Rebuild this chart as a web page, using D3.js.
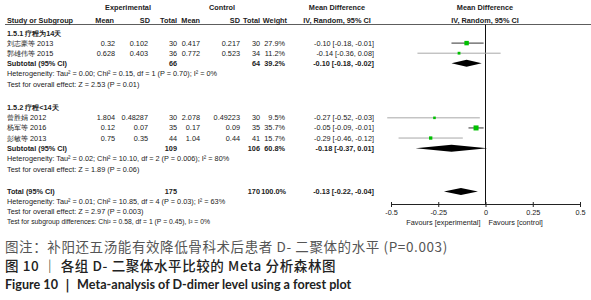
<!DOCTYPE html>
<html>
<head>
<meta charset="utf-8">
<script src="https://d3js.org/d3.v7.min.js"></script>
<style>
  body { margin: 0; background: #fff; }
  text { font-family: "Liberation Sans", Arial, sans-serif; fill: #222; }
  .cap { font-family: "Noto Sans CJK SC", "Noto Sans", sans-serif; }
</style>
</head>
<body>
<div id="chart"></div>
<script>
// ---- data ----
const subgroupLabels = ["1.5.1 疗程为14天", "1.5.2 疗程<14天"];
const studyNames = ["刘志豪等 2013", "郭雄伟等 2015", "曾胜娟 2012", "杨军等 2016", "彭敏等 2013"];
const studyGroup = [0, 0, 1, 1, 1];
const expMean = [0.32, 0.628, 1.804, 0.12, 0.75];
const expSD = [0.102, 0.403, 0.48287, 0.07, 0.35];
const expN = [30, 36, 30, 35, 44];
const ctrlMean = [0.417, 0.772, 2.078, 0.17, 1.04];
const ctrlSD = [0.217, 0.523, 0.49223, 0.09, 0.44];
const ctrlN = [30, 34, 30, 35, 41];
const weights = [27.9, 11.2, 9.5, 35.7, 15.7];
const md = [-0.10, -0.14, -0.27, -0.05, -0.29];
const ciLow = [-0.18, -0.36, -0.52, -0.09, -0.46];
const ciHigh = [-0.01, 0.08, -0.03, -0.01, -0.12];

const subExpN = [66, 109];
const subCtrlN = [64, 106];
const subWeight = [39.2, 60.8];
const subMD = [-0.10, -0.18];
const subLow = [-0.18, -0.37];
const subHigh = [-0.02, 0.01];
const subHetero = [
  "Heterogeneity: Tau² = 0.00; Chi² = 0.15, df = 1 (P = 0.70); I² = 0%",
  "Heterogeneity: Tau² = 0.02; Chi² = 10.10, df = 2 (P = 0.006); I² = 80%"
];
const subZ = ["2.53 (P = 0.01)", "1.89 (P = 0.06)"];

const totalExpN = 175, totalCtrlN = 170, totalWeight = 100.0;
const totalMD = -0.13, totalLow = -0.22, totalHigh = -0.04;
const totalHetero = "Heterogeneity: Tau² = 0.01; Chi² = 10.85, df = 4 (P = 0.03); I² = 63%";
const totalZ = "2.97 (P = 0.003)";
const subgroupDiff = "Test for subgroup differences: Chi² = 0.58, df = 1 (P = 0.45), I² = 0%";

const axisTicks = [-0.5, -0.25, 0, 0.25, 0.5];
const tickLabels = ["-0.5", "-0.25", "0", "0.25", "0.5"];

const captionLines = [
  "图注：补阳还五汤能有效降低骨科术后患者 D- 二聚体的水平 (P=0.003)",
  "图 10 ｜ 各组 D- 二聚体水平比较的 Meta 分析森林图",
  "Figure 10 ｜ Meta-analysis of D-dimer level using a forest plot"
];

// ---- layout ----
const width = 591, height = 300;
const svg = d3.select("#chart").append("svg")
  .attr("width", width).attr("height", height);

const x = d3.scaleLinear().domain([-0.5, 0.5]).range([391, 580]);
const rowY = d3.scaleLinear().domain([0, 1]).range([33, 43.1]);
const boxSize = d3.scaleSqrt().domain([0, 100]).range([0, 8.4]);

const fs = 7.3;
const fmt = v => v.toFixed(2);
const ciText = (m, l, h) => `${fmt(m)} [${fmt(l)}, ${fmt(h)}]`;
const pct = v => v.toFixed(1) + "%";

// column anchors (right aligned numbers)
const col = { name: 7, eMean: 115, eSD: 148, eN: 177, cMean: 200, cSD: 240, cN: 260, w: 285, ci: 374 };

function txt(xp, yp, s, opt = {}) {
  return svg.append("text")
    .attr("x", xp).attr("y", yp)
    .attr("dy", "0.35em")
    .attr("text-anchor", opt.anchor || "start")
    .attr("font-size", opt.size || fs)
    .attr("font-weight", opt.bold ? "bold" : "normal")
    .text(s);
}

// headers
txt(128, 7, "Experimental", { anchor: "middle", bold: true });
txt(222, 7, "Control", { anchor: "middle", bold: true });
txt(337, 7, "Mean Difference", { anchor: "middle", bold: true });
txt(485, 7, "Mean Difference", { anchor: "middle", bold: true });
const hy = 20;
txt(col.name, hy, "Study or Subgroup", { bold: true });
txt(col.eMean - 1, hy, "Mean", { anchor: "end", bold: true });
txt(col.eSD + 2, hy, "SD", { anchor: "end", bold: true });
txt(col.eN, hy, "Total", { anchor: "end", bold: true });
txt(col.cMean, hy, "Mean", { anchor: "end", bold: true });
txt(col.cSD, hy, "SD", { anchor: "end", bold: true });
txt(col.cN, hy, "Total", { anchor: "end", bold: true });
txt(col.w + 2, hy, "Weight", { anchor: "end", bold: true });
txt(337, hy, "IV, Random, 95% CI", { anchor: "middle", bold: true });
txt(485, hy, "IV, Random, 95% CI", { anchor: "middle", bold: true });

svg.append("line")
  .attr("x1", 5).attr("x2", width).attr("y1", 24.5).attr("y2", 24.5)
  .attr("stroke", "#333").attr("stroke-width", 0.8);

// vertical line of no effect
const axisY = 204;
svg.append("line")
  .attr("x1", x(0)).attr("x2", x(0)).attr("y1", 24.5).attr("y2", axisY)
  .attr("stroke", "#111").attr("stroke-width", 1);

function diamond(yc, m, l, h) {
  const hh = 3.5;
  svg.append("path")
    .attr("d", `M${x(l)},${yc} L${x(m)},${yc - hh} L${x(h)},${yc} L${x(m)},${yc + hh} Z`)
    .attr("fill", "#000");
}

// subgroup blocks
const startLine = [0, 7.4];
subgroupLabels.forEach((lab, g) => {
  let k = startLine[g];
  txt(col.name, rowY(k), lab, { bold: true });
  studyNames.forEach((nm, i) => {
    if (studyGroup[i] !== g) return;
    k += 1;
    const y = rowY(k);
    txt(col.name, y, nm);
    txt(col.eMean, y, String(expMean[i]), { anchor: "end" });
    txt(col.eSD, y, String(expSD[i]), { anchor: "end" });
    txt(col.eN, y, String(expN[i]), { anchor: "end" });
    txt(col.cMean, y, String(ctrlMean[i]), { anchor: "end" });
    txt(col.cSD, y, String(ctrlSD[i]), { anchor: "end" });
    txt(col.cN, y, String(ctrlN[i]), { anchor: "end" });
    txt(col.w, y, pct(weights[i]), { anchor: "end" });
    txt(col.ci, y, ciText(md[i], ciLow[i], ciHigh[i]), { anchor: "end" });
    const wide = ciHigh[i] - ciLow[i] > 0.2;
    svg.append("line")
      .attr("x1", x(ciLow[i])).attr("x2", x(ciHigh[i]))
      .attr("y1", y).attr("y2", y)
      .attr("stroke", wide ? "#a8a8a8" : "#333").attr("stroke-width", 1);
    const s = boxSize(weights[i]);
    svg.append("rect")
      .attr("x", x(md[i]) - s / 2).attr("y", y - s / 2)
      .attr("width", s).attr("height", s)
      .attr("fill", "#00c000");
  });
  k += 1;
  const ys = rowY(k);
  txt(col.name, ys, "Subtotal (95% CI)", { bold: true });
  txt(col.eN, ys, String(subExpN[g]), { anchor: "end", bold: true });
  txt(col.cN, ys, String(subCtrlN[g]), { anchor: "end", bold: true });
  txt(col.w, ys, pct(subWeight[g]), { anchor: "end", bold: true });
  txt(col.ci, ys, ciText(subMD[g], subLow[g], subHigh[g]), { anchor: "end", bold: true });
  diamond(ys, subMD[g], subLow[g], subHigh[g]);
  txt(col.name, rowY(k + 1.05), subHetero[g]);
  txt(col.name, rowY(k + 2.1), "Test for overall effect: Z = " + subZ[g]);
});

// total
const kt = 15.7;
const yt = rowY(kt);
txt(col.name, yt, "Total (95% CI)", { bold: true });
txt(col.eN, yt, String(totalExpN), { anchor: "end", bold: true });
txt(col.cN, yt, String(totalCtrlN), { anchor: "end", bold: true });
txt(col.w + 1, yt, pct(totalWeight), { anchor: "end", bold: true });
txt(col.ci, yt, ciText(totalMD, totalLow, totalHigh), { anchor: "end", bold: true });
diamond(yt, totalMD, totalLow, totalHigh);
txt(col.name, rowY(kt + 1), totalHetero);
txt(col.name, rowY(kt + 2), "Test for overall effect: Z = " + totalZ);
txt(col.name, rowY(kt + 3), subgroupDiff, { size: 6.8 });

// axis
const axis = svg.append("g")
  .attr("transform", `translate(0,${axisY})`)
  .call(d3.axisBottom(x).tickValues(axisTicks)
    .tickFormat((d, i) => tickLabels[i]).tickSizeInner(3).tickSizeOuter(0).tickPadding(3));
axis.select(".domain").attr("stroke", "#222");
axis.selectAll(".tick line").attr("y1", -2).attr("stroke", "#222");
axis.selectAll(".tick text")
  .attr("font-size", fs).attr("font-family", "Liberation Sans, Arial, sans-serif").attr("fill", "#222");
txt(x(0) - 5, 222, "Favours [experimental]", { anchor: "end" });
txt(x(0) + 3, 222, "Favours [control]");

// caption
const capY = [247, 266, 285];
const capStyle = [
  { size: 13.5, weight: 400, fill: "#555", ls: 0.6, font: null },
  { size: 13.5, weight: 500, fill: "#222", ls: 0.6, font: null },
  { size: 12.6, weight: 700, fill: "#222", ls: 0, font: "Lato, 'Noto Sans', sans-serif" }
];
captionLines.forEach((s, i) => {
  const t = svg.append("text")
    .attr("class", "cap")
    .attr("x", 5).attr("y", capY[i]).attr("dy", "0.35em")
    .attr("font-size", capStyle[i].size)
    .attr("font-weight", capStyle[i].weight)
    .attr("letter-spacing", capStyle[i].ls)
    .style("fill", capStyle[i].fill)
    .text(s);
  if (capStyle[i].font) t.style("font-family", capStyle[i].font);
});
</script>
</body>
</html>
